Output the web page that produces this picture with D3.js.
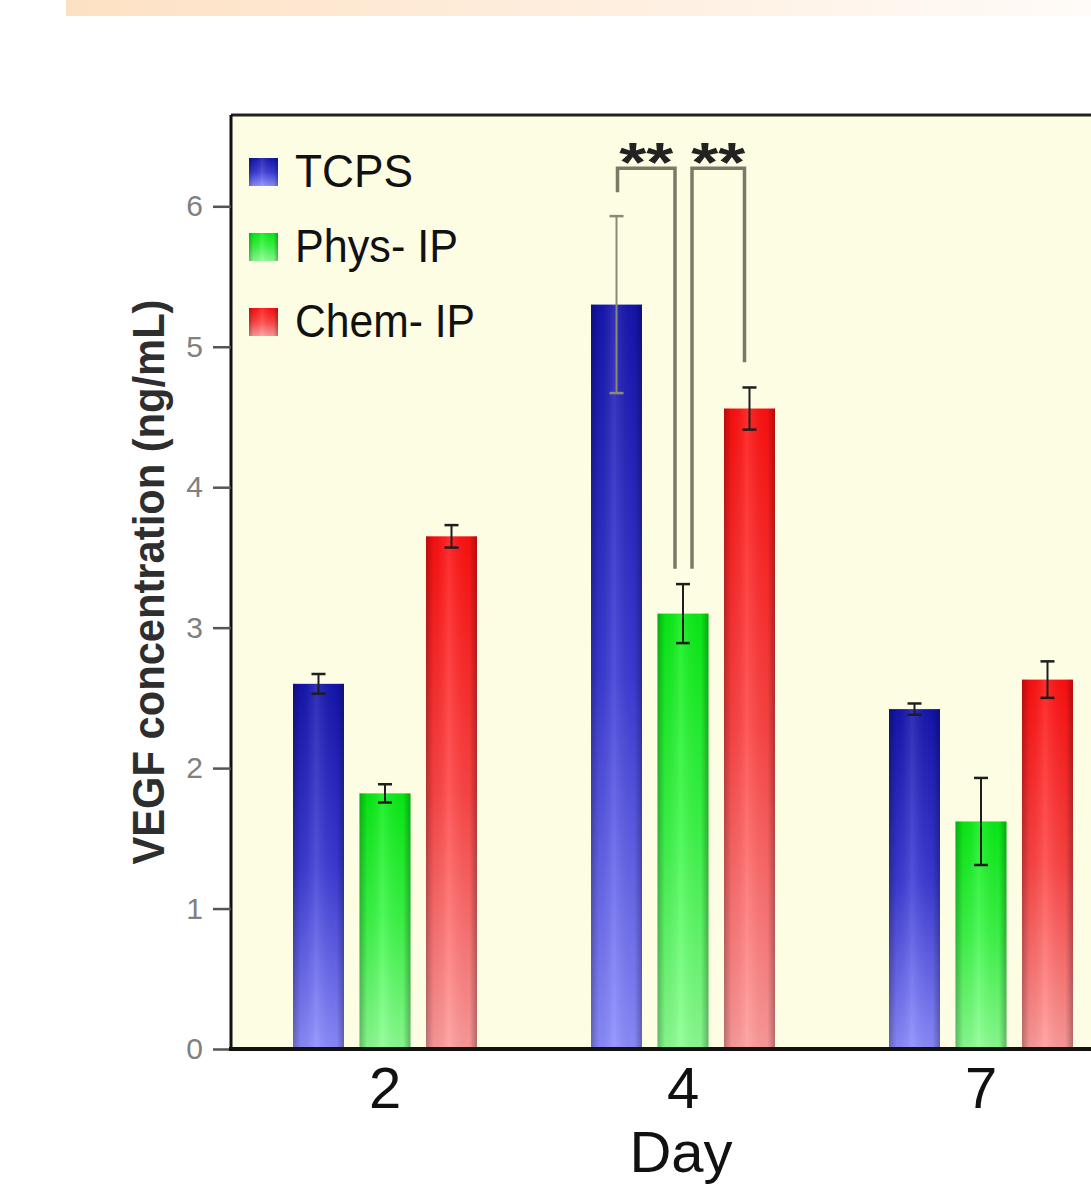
<!DOCTYPE html>
<html>
<meta charset="utf-8">
<style>
  body {
    margin: 0;
    padding: 0;
    background: #fff;
  }
  svg text {
    font-family: "Liberation Sans", Arial, sans-serif;
  }
  .axis--y .domain {
    stroke: #111;
    stroke-width: 3px;
  }
  .axis--y .tick line {
    stroke: #555;
    stroke-width: 2.5px;
  }
  .axis--y .tick text {
    fill: #808080;
    font-size: 30px;
  }
</style>
<body>
<svg id="chart" width="1091" height="1188"></svg>

<script src="https://cdn.jsdelivr.net/npm/d3@7/dist/d3.min.js"></script>
<script>
// values
var days = ["2", "4", "7"];
var series = ["TCPS", "Phys- IP", "Chem- IP"];
var tcps = [2.60, 5.30, 2.42];
var phys = [1.82, 3.10, 1.62];
var chem = [3.65, 4.56, 2.63];
var tcpsErr = [0.07, 0.63, 0.04];
var physErr = [0.065, 0.21, 0.31];
var chemErr = [0.08, 0.15, 0.13];
var yTicks = [0, 1, 2, 3, 4, 5, 6];
// significance brackets on day 4 (heights in ng/mL)
var brackets = [
  {day: "4", from: "TCPS", to: "Phys- IP", top: 6.27, left: 6.10, right: 3.42, label: "**"},
  {day: "4", from: "Phys- IP", to: "Chem- IP", top: 6.27, left: 3.42, right: 4.89, label: "**"}
];

var means = {"TCPS": tcps, "Phys- IP": phys, "Chem- IP": chem};
var errs = {"TCPS": tcpsErr, "Phys- IP": physErr, "Chem- IP": chemErr};
var colors = {
  "TCPS": ["#1414ae", "#3a3ad6", "#8c8cff"],
  "Phys- IP": ["#08ee14", "#3cf848", "#8cff92"],
  "Chem- IP": ["#ff1010", "#ff4444", "#ff9c9c"]
};
var ids = {"TCPS": "tcps", "Phys- IP": "phys", "Chem- IP": "chem"};

var svg = d3.select("#chart"),
    plotL = 231, plotT = 115, plotB = 1049, plotR = 1091;

var y = d3.scaleLinear().domain([0, 6.65]).range([plotB, plotT]);
var x0 = d3.scaleBand().domain(days).range([236, 1130]);
var x1 = d3.scaleBand().domain(series).range([-92, 92]).paddingInner(0.233);

function cx(day, s) { return x0(day) + x0.bandwidth() / 2 + x1(s) + x1.bandwidth() / 2; }

// gradients
var defs = svg.append("defs");
series.forEach(function(s) {
  var g = defs.append("linearGradient").attr("id", "v-" + ids[s])
      .attr("x1", 0).attr("y1", 0).attr("x2", 0).attr("y2", 1);
  g.append("stop").attr("offset", 0).attr("stop-color", colors[s][0]);
  g.append("stop").attr("offset", 0.5).attr("stop-color", colors[s][1]);
  g.append("stop").attr("offset", 1).attr("stop-color", colors[s][2]);
});
var sh = defs.append("linearGradient").attr("id", "shade")
    .attr("x1", 0).attr("y1", 0).attr("x2", 1).attr("y2", 0);
sh.append("stop").attr("offset", 0).attr("stop-color", "#000").attr("stop-opacity", 0.28);
sh.append("stop").attr("offset", 0.15).attr("stop-color", "#000").attr("stop-opacity", 0.05);
sh.append("stop").attr("offset", 0.45).attr("stop-color", "#fff").attr("stop-opacity", 0.12);
sh.append("stop").attr("offset", 0.85).attr("stop-color", "#000").attr("stop-opacity", 0.04);
sh.append("stop").attr("offset", 1).attr("stop-color", "#000").attr("stop-opacity", 0.3);
var ban = defs.append("linearGradient").attr("id", "banner")
    .attr("x1", 0).attr("y1", 0).attr("x2", 1).attr("y2", 0);
ban.append("stop").attr("offset", 0).attr("stop-color", "#fde1c4");
ban.append("stop").attr("offset", 1).attr("stop-color", "#fffbf8");

// header strip (cut off at the top of the figure)
svg.append("rect").attr("x", 66).attr("y", 0).attr("width", 1025).attr("height", 16)
    .attr("fill", "url(#banner)");

// plot background
svg.append("rect").attr("x", plotL).attr("y", plotT)
    .attr("width", plotR - plotL).attr("height", plotB - plotT)
    .attr("fill", "#fdfde4");

// bars
var rows = [];
days.forEach(function(d, i) {
  series.forEach(function(s) {
    rows.push({day: d, s: s, v: means[s][i], e: errs[s][i]});
  });
});

var bars = svg.append("g");
bars.selectAll(".bar").data(rows).enter().append("rect")
    .attr("class", "bar")
    .attr("x", function(d) { return x0(d.day) + x0.bandwidth() / 2 + x1(d.s); })
    .attr("y", function(d) { return y(d.v); })
    .attr("width", x1.bandwidth())
    .attr("height", function(d) { return y(0) - y(d.v); })
    .attr("fill", function(d) { return "url(#v-" + ids[d.s] + ")"; });
bars.selectAll(".bar-shade").data(rows).enter().append("rect")
    .attr("class", "bar-shade")
    .attr("x", function(d) { return x0(d.day) + x0.bandwidth() / 2 + x1(d.s); })
    .attr("y", function(d) { return y(d.v); })
    .attr("width", x1.bandwidth())
    .attr("height", function(d) { return y(0) - y(d.v); })
    .attr("fill", "url(#shade)");

// error bars
var eb = svg.append("g").attr("stroke-width", 2);
rows.forEach(function(d) {
  var c = cx(d.day, d.s);
  var col = (d.day === "4" && d.s === "TCPS") ? "#8a8a74" : "#1e1e1e";
  eb.append("line").attr("x1", c).attr("x2", c)
      .attr("y1", y(d.v + d.e)).attr("y2", y(d.v - d.e)).attr("stroke", col);
  eb.append("line").attr("x1", c - 7).attr("x2", c + 7)
      .attr("y1", y(d.v + d.e)).attr("y2", y(d.v + d.e)).attr("stroke", col).attr("stroke-width", 2.5);
  eb.append("line").attr("x1", c - 7).attr("x2", c + 7)
      .attr("y1", y(d.v - d.e)).attr("y2", y(d.v - d.e)).attr("stroke", col).attr("stroke-width", 2.5);
});

// significance brackets
var br = svg.append("g");
brackets.forEach(function(b) {
  var xa = cx(b.day, b.from), xb = cx(b.day, b.to);
  xa += (b.from === "Phys- IP") ? 9 : 1;
  xb -= (b.to === "Phys- IP") ? 8 : 5;
  br.append("path")
      .attr("d", "M" + xa + "," + y(b.left) + "V" + y(b.top) + "H" + xb + "V" + y(b.right))
      .attr("fill", "none").attr("stroke", "#7a7a66").attr("stroke-width", 3.5);
  br.append("text")
      .attr("x", (xa + xb) / 2).attr("y", y(b.top) + 13)
      .attr("text-anchor", "middle")
      .attr("font-size", 56).attr("font-weight", "bold")
      .attr("fill", "#222")
      .attr("textLength", 54).attr("lengthAdjust", "spacingAndGlyphs")
      .text(b.label);
});

// top frame line
svg.append("line").attr("x1", plotL).attr("x2", plotR)
    .attr("y1", plotT).attr("y2", plotT)
    .attr("stroke", "#222").attr("stroke-width", 3);

// y axis
svg.append("g")
    .attr("class", "axis axis--y")
    .attr("transform", "translate(" + plotL + ",0)")
    .call(d3.axisLeft(y).tickValues(yTicks).tickFormat(d3.format("d"))
      .tickSize(18).tickSizeOuter(0).tickPadding(10))
    .select(".domain").attr("d", "M0," + plotB + "V" + plotT);

// x axis
var xa = svg.append("g")
    .attr("class", "axis axis--x")
    .attr("transform", "translate(0," + plotB + ")")
    .call(d3.axisBottom(x0).tickSize(0).tickPadding(0));
xa.select(".domain").attr("d", "M" + (plotL - 2) + ",0H" + plotR)
    .attr("stroke", "#111").attr("stroke-width", 4);
xa.selectAll(".tick text")
    .attr("y", 59).attr("dy", 0)
    .attr("font-size", 58).attr("fill", "#111");

// axis titles
svg.append("text")
    .attr("transform", "translate(164,582) rotate(-90)")
    .attr("text-anchor", "middle")
    .attr("font-size", 44).attr("font-weight", "bold")
    .attr("fill", "#2e2e2e")
    .attr("textLength", 565).attr("lengthAdjust", "spacingAndGlyphs")
    .text("VEGF concentration (ng/mL)");

svg.append("text")
    .attr("x", 681).attr("y", 1172)
    .attr("text-anchor", "middle")
    .attr("font-size", 58).attr("fill", "#111")
    .text("Day");

// legend
var legendWidths = [118, 163, 180];
var legend = svg.append("g").attr("transform", "translate(249,158)");
series.forEach(function(s, i) {
  var row = legend.append("g").attr("transform", "translate(0," + (i * 75) + ")");
  row.append("rect").attr("width", 29).attr("height", 28)
      .attr("fill", "url(#v-" + ids[s] + ")");
  row.append("rect").attr("width", 29).attr("height", 28)
      .attr("fill", "url(#shade)");
  row.append("text").attr("x", 46).attr("y", 29)
      .attr("font-size", 46).attr("fill", "#111")
      .attr("textLength", legendWidths[i]).attr("lengthAdjust", "spacingAndGlyphs")
      .text(s);
});
</script>
</body>
</html>
